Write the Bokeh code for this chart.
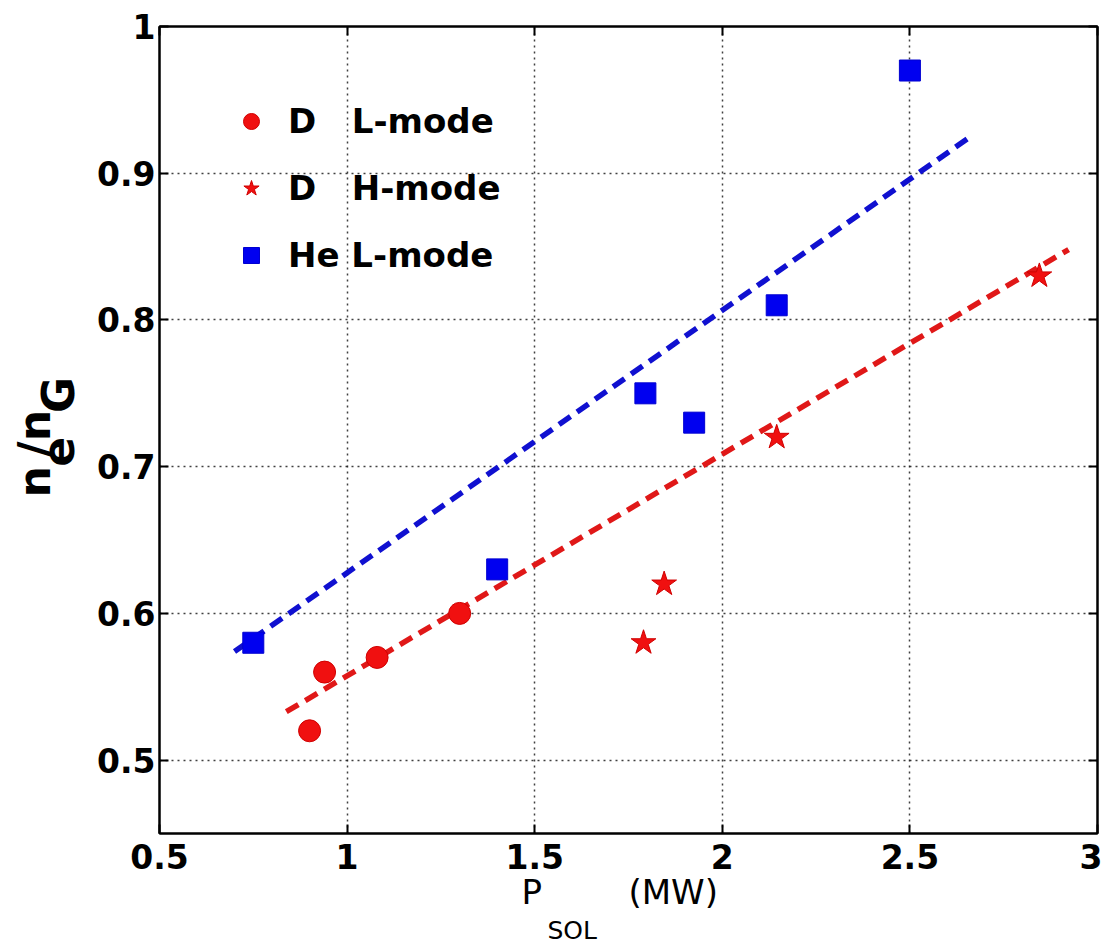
from bokeh.plotting import figure
from bokeh.models import Range1d, FixedTicker, LinearAxis, Legend, LegendItem, Title
from bokeh.embed import file_html
from bokeh.resources import INLINE

# ---------------- data ----------------
dl_x = [0.90, 0.94, 1.08, 1.30]          # D L-mode
dl_y = [0.52, 0.56, 0.57, 0.60]
dh_x = [1.79, 1.845, 2.145, 2.845]        # D H-mode
dh_y = [0.58, 0.62, 0.72, 0.83]
he_x = [0.75, 1.40, 1.795, 1.925, 2.145, 2.50]   # He L-mode
he_y = [0.58, 0.63, 0.75, 0.73, 0.81, 0.97]
fit_d_x = [0.838, 2.923]                  # red dashed fit
fit_d_y = [0.533, 0.848]
fit_he_x = [0.700, 2.662]                 # blue dashed fit
fit_he_y = [0.574, 0.925]
x_ticks = [0.5, 1.0, 1.5, 2.0, 2.5, 3.0]
x_tick_labels = ["0.5", "1", "1.5", "2", "2.5", "3"]
y_ticks = [0.5, 0.6, 0.7, 0.8, 0.9, 1.0]
y_tick_labels = ["0.5", "0.6", "0.7", "0.8", "0.9", "1"]
legend_labels = ["D\u00a0\u00a0\u00a0L-mode", "D\u00a0\u00a0\u00a0H-mode", "He L-mode"]
NB = "\u00a0"
x_title_main = "P" + NB * 8 + "(MW)"
x_title_sub = "SOL"
y_title = "n\u2009/n\n" + NB * 2 + "e" + NB + "\u2009G"

X0, X1, Y0, Y1 = 0.5, 3.0, 0.45, 1.0
RED = "#f01010"
RED_LINE = "#e01818"
BLUE = "#0000f0"
BLUE_LINE = "#1010d0"
FONT = "DejaVu Sans"

W, H = 1102, 944
p = figure(width=W, height=H, output_backend="svg", toolbar_location=None,
           x_range=Range1d(X0, X1), y_range=Range1d(Y0, Y1),
           min_border_left=158, min_border_right=5, min_border_top=26,
           min_border_bottom=110, background_fill_color="white",
           border_fill_color="white")
p.outline_line_color = "black"
p.outline_line_width = 2

for ax, ticks, labels in ((p.xaxis[0], x_ticks, x_tick_labels), (p.yaxis[0], y_ticks, y_tick_labels)):
    ax.ticker = FixedTicker(ticks=ticks)
    ax.major_label_overrides = {t: l for t, l in zip(ticks, labels)}
    ax.major_tick_in = 9
    ax.major_tick_out = 0
    ax.minor_tick_line_color = None
    ax.axis_line_width = 2
    ax.major_tick_line_width = 2
    ax.major_label_text_font = FONT
    ax.major_label_text_font_size = "33px"
    ax.major_label_text_font_style = "bold"
    ax.major_label_text_color = "black"
p.xaxis[0].major_label_standoff = 10
p.yaxis[0].major_label_standoff = 4

for loc, ticks in (("right", y_ticks), ("above", x_ticks)):
    a = LinearAxis(ticker=FixedTicker(ticks=ticks))
    a.major_label_text_font_size = "1px"
    a.major_label_text_color = None
    a.major_label_standoff = 0
    a.major_tick_in = 9
    a.major_tick_out = 0
    a.minor_tick_line_color = None
    a.axis_line_width = 2
    a.major_tick_line_width = 2
    p.add_layout(a, loc)

p.xgrid.ticker = FixedTicker(ticks=x_ticks)
p.ygrid.ticker = FixedTicker(ticks=y_ticks)
for g in (p.xgrid[0], p.ygrid[0]):
    g.grid_line_color = "black"
    g.grid_line_alpha = 0.75
    g.grid_line_width = 1.5
    g.grid_line_dash = "2 4"

# fit lines
p.line(fit_he_x, fit_he_y, line_color=BLUE_LINE, line_width=5.5, line_dash="14 8")
p.line(fit_d_x, fit_d_y, line_color=RED_LINE, line_width=5.5, line_dash="14 8")

# markers
r1 = p.scatter(dl_x, dl_y, marker="circle", size=22, fill_color=RED, line_color="#d00000", line_width=1)
r2 = p.scatter(dh_x, dh_y, marker="star", size=26, fill_color=RED, line_color="#d00000", line_width=1)
r3 = p.scatter(he_x, he_y, marker="square", size=21, fill_color=BLUE, line_color="#0000d0", line_width=1)

legend = Legend(items=[LegendItem(label=legend_labels[0], renderers=[r1]),
                       LegendItem(label=legend_labels[1], renderers=[r2]),
                       LegendItem(label=legend_labels[2], renderers=[r3])],
                location=(72, 558), padding=0, margin=0, spacing=27,
                glyph_width=40, glyph_height=40, label_height=40,
                label_standoff=17, border_line_color=None,
                background_fill_alpha=0.0,
                label_text_font=FONT, label_text_font_size="34px",
                label_text_font_style="bold", label_text_color="black")
p.add_layout(legend, "center")

# x title: P (MW) row, then the SOL subscript row
t_main = Title(text=x_title_main, align="left", offset=362, standoff=0,
               vertical_align="top",
               text_font=FONT, text_font_size="34px", text_font_style="normal",
               text_color="black")
t_sub = Title(text=x_title_sub, align="left", offset=388, standoff=0,
              vertical_align="bottom",
              text_font=FONT, text_font_size="25px", text_font_style="normal",
              text_color="black")
p.add_layout(t_main, "below")
p.add_layout(t_sub, "below")

# y title n_e/n_G : two-line rotated title (main line + subscript line)
t_y = Title(text=y_title, align="left", offset=336, standoff=16,
            vertical_align="top", text_line_height=0.49,
            text_font=FONT, text_font_size="44px", text_font_style="bold",
            text_color="black")
p.add_layout(t_y, "left")

open("out.html", "w").write(file_html(p, INLINE))
